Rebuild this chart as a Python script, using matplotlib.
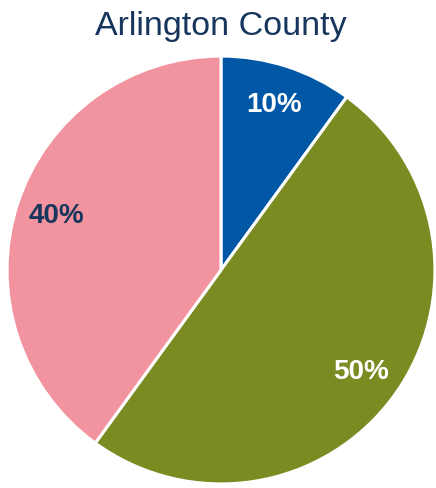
import matplotlib
matplotlib.use("Agg")
import matplotlib.pyplot as plt

plt.rcParams['font.family'] = ['Liberation Sans', 'DejaVu Sans']

# slice data, clockwise from 12 o'clock
labels = ['A', 'B', 'C']
shares = [10, 50, 40]
colors = ['#0057A6', '#7B8B22', '#F294A0']
label_colors = ['white', 'white', '#17365D']
title = 'Arlington County'

fig = plt.figure(figsize=(4.36, 4.88), dpi=100)
ax = fig.add_axes([6 / 436, 3 / 488, 430 / 436, 430 / 488])

wedges, texts, autotexts = ax.pie(
    shares, colors=colors, startangle=90, counterclock=False,
    autopct='%d%%', pctdistance=0.81,
    wedgeprops=dict(edgecolor='white', linewidth=2.2))
for t, c in zip(autotexts, label_colors):
    t.set_color(c)
    t.set_fontsize(20)
    t.set_fontweight('bold')
ax.set_xlim(-1.005, 1.005)
ax.set_ylim(-1.005, 1.005)
ax.set_aspect('equal')

fig.text(0.507, 0.945, title, ha='center', va='center', fontsize=24.5, color='#17365D')

fig.savefig('out.png', dpi=100)
